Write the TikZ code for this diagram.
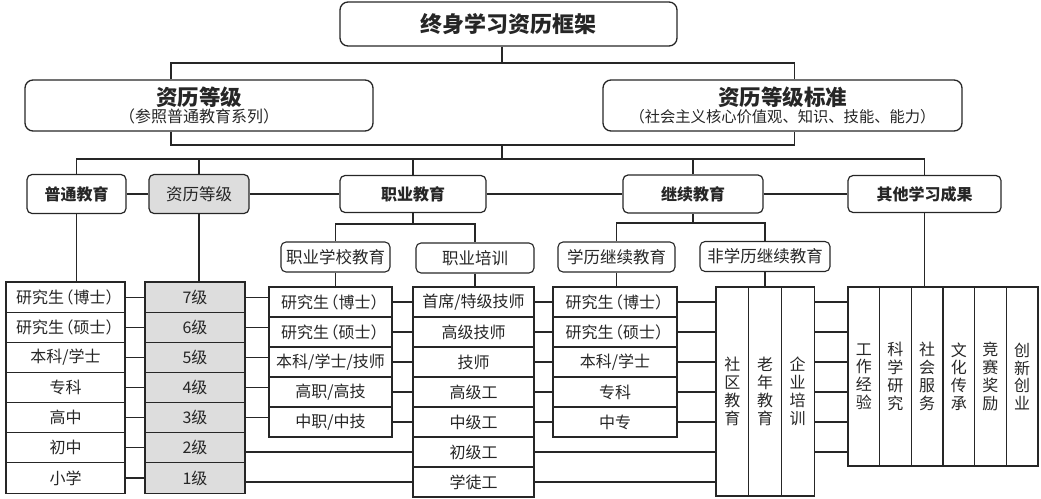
\documentclass[tikz,border=0pt]{standalone}
\usepackage{fontspec}
\setmainfont{Noto Sans CJK SC}
\usetikzlibrary{positioning}
\definecolor{Ink}{HTML}{262626}
\definecolor{CellGray}{HTML}{DDDDDD}
\newcommand{\brk}[1]{\kern-.42em（#1）\kern-.42em}
\tikzset{
  titlebox/.style={draw=Ink, rounded corners=8pt, line width=1.3pt, align=center, inner sep=0pt},
  catbox/.style={draw=Ink, rounded corners=5pt, line width=1.2pt, align=center, inner sep=0pt, font=\fontsize{16}{18}\selectfont\bfseries},
  graybox/.style={catbox, fill=CellGray, font=\fontsize{16.5}{18}\selectfont},
  subbox/.style={draw=Ink, rounded corners=5pt, line width=1.1pt, minimum height=30pt, inner sep=0pt, font=\fontsize{16.5}{18}\selectfont},
  cell/.style={draw=Ink, line width=1.1pt, outer sep=0pt, inner sep=0pt, minimum height=30pt, font=\fontsize{16}{18}\selectfont},
  graycell/.style={cell, fill=CellGray},
  vcell/.style={draw=Ink, line width=1.1pt, outer sep=0pt, inner sep=0pt, align=center, font=\fontsize{16}{17.8}\selectfont},
  link/.style={draw=Ink, line width=1.1pt}
}
\begin{document}
\begin{tikzpicture}[x=1pt, y=-1pt, text=Ink]
  \useasboundingbox (0,0) rectangle (1041,498);

  % top levels
  \node[titlebox, minimum width=337pt, minimum height=44pt, font=\fontsize{22}{26}\selectfont\bfseries] (top) at (508.5,24) {终身学习资历框架};
  \node[titlebox, minimum width=348pt, minimum height=51pt] (qual) at (199,105.5)
    {{\fontsize{21.5}{23}\selectfont\bfseries 资历等级}\\[0pt]{\fontsize{16}{17}\selectfont （参照普通教育系列）}};
  \node[titlebox, minimum width=359pt, minimum height=51pt] (std) at (782.5,105.5)
    {{\fontsize{21.5}{23}\selectfont\bfseries 资历等级标准}\\[0pt]{\fontsize{15.3}{17}\selectfont （社会主义核心价值观、知识、技能、能力）}};

  % categories
  \node[catbox, minimum width=99pt, minimum height=39pt] (gen) at (76.5,194) {普通教育};
  \node[graybox, minimum width=100pt, minimum height=39pt] (lvl) at (199,194) {资历等级};
  \node[catbox, minimum width=146pt, minimum height=37pt] (voc) at (413,194) {职业教育};
  \node[catbox, minimum width=140pt, minimum height=38pt] (cont) at (693,194) {继续教育};
  \node[catbox, minimum width=153pt, minimum height=37pt] (oth) at (924.5,194) {其他学习成果};

  \node[subbox, minimum width=109pt] (vsch) at (335.5,257) {职业学校教育};
  \node[subbox, minimum width=118pt] (vtrn) at (475,258) {职业培训};
  \node[subbox, minimum width=117pt] (acad) at (616.5,257) {学历继续教育};
  \node[subbox, minimum width=130pt] (nacad) at (765,256.5) {非学历继续教育};

  % general education column
  \node[cell, minimum width=119pt, minimum height=30.15pt] (gen1) at (65.5,297.1) {研究生\brk{博士}};
  \node[cell, minimum width=119pt, minimum height=30.15pt, below=0pt of gen1] (gen2) {研究生\brk{硕士}};
  \node[cell, minimum width=119pt, minimum height=30.15pt, below=0pt of gen2] (gen3) {本科/学士};
  \node[cell, minimum width=119pt, minimum height=30.15pt, below=0pt of gen3] (gen4) {专科};
  \node[cell, minimum width=119pt, minimum height=30.15pt, below=0pt of gen4] (gen5) {高中};
  \node[cell, minimum width=119pt, minimum height=30.15pt, below=0pt of gen5] (gen6) {初中};
  \node[cell, minimum width=119pt, minimum height=30.15pt, below=0pt of gen6] (gen7) {小学};

  % level column
  \node[graycell, minimum width=100pt, minimum height=30.15pt] (lvl1) at (195,297.1) {7级};
  \node[graycell, minimum width=100pt, minimum height=30.15pt, below=0pt of lvl1] (lvl2) {6级};
  \node[graycell, minimum width=100pt, minimum height=30.15pt, below=0pt of lvl2] (lvl3) {5级};
  \node[graycell, minimum width=100pt, minimum height=30.15pt, below=0pt of lvl3] (lvl4) {4级};
  \node[graycell, minimum width=100pt, minimum height=30.15pt, below=0pt of lvl4] (lvl5) {3级};
  \node[graycell, minimum width=100pt, minimum height=30.15pt, below=0pt of lvl5] (lvl6) {2级};
  \node[graycell, minimum width=100pt, minimum height=30.15pt, below=0pt of lvl6] (lvl7) {1级};

  % vocational school column
  \node[cell, minimum width=123pt] (vsch1) at (330.5,302) {研究生\brk{博士}};
  \node[cell, minimum width=123pt, below=0pt of vsch1] (vsch2) {研究生\brk{硕士}};
  \node[cell, minimum width=123pt, below=0pt of vsch2] (vsch3) {本科/学士/技师};
  \node[cell, minimum width=123pt, below=0pt of vsch3] (vsch4) {高职/高技};
  \node[cell, minimum width=123pt, below=0pt of vsch4] (vsch5) {中职/中技};

  % vocational training column
  \node[cell, minimum width=121pt] (vtrn1) at (473.5,302) {首席/特级技师};
  \node[cell, minimum width=121pt, below=0pt of vtrn1] (vtrn2) {高级技师};
  \node[cell, minimum width=121pt, below=0pt of vtrn2] (vtrn3) {技师};
  \node[cell, minimum width=121pt, below=0pt of vtrn3] (vtrn4) {高级工};
  \node[cell, minimum width=121pt, below=0pt of vtrn4] (vtrn5) {中级工};
  \node[cell, minimum width=121pt, below=0pt of vtrn5] (vtrn6) {初级工};
  \node[cell, minimum width=121pt, below=0pt of vtrn6] (vtrn7) {学徒工};

  % academic continuing column
  \node[cell, minimum width=124pt] (acad1) at (615,302) {研究生\brk{博士}};
  \node[cell, minimum width=124pt, below=0pt of acad1] (acad2) {研究生\brk{硕士}};
  \node[cell, minimum width=124pt, below=0pt of acad2] (acad3) {本科/学士};
  \node[cell, minimum width=124pt, below=0pt of acad3] (acad4) {专科};
  \node[cell, minimum width=124pt, below=0pt of acad4] (acad5) {中专};

  % non-academic block
  \node[vcell, minimum width=32.7pt, minimum height=209pt] (comm) at (732.3,391.5) {社\\区\\教\\育};
  \node[vcell, minimum width=32.7pt, minimum height=209pt, right=0pt of comm] (elder) {老\\年\\教\\育};
  \node[vcell, minimum width=32.7pt, minimum height=209pt, right=0pt of elder] (corp) {企\\业\\培\\训};

  % other outcomes block
  \node[vcell, minimum width=31.67pt, minimum height=179pt] (work) at (863.8,376.5) {工\\作\\经\\验};
  \node[vcell, minimum width=31.67pt, minimum height=179pt, right=0pt of work] (sci) {科\\学\\研\\究};
  \node[vcell, minimum width=31.67pt, minimum height=179pt, right=0pt of sci] (serv) {社\\会\\服\\务};
  \node[vcell, minimum width=31.67pt, minimum height=179pt, right=0pt of serv] (cult) {文\\化\\传\\承};
  \node[vcell, minimum width=31.67pt, minimum height=179pt, right=0pt of cult] (comp) {竞\\赛\\奖\\励};
  \node[vcell, minimum width=31.67pt, minimum height=179pt, right=0pt of comp] (innov) {创\\新\\创\\业};

  \coordinate (j1) at (502,63);
  \coordinate (j2) at (502,145);
  \coordinate (j3) at (502,159);
  \coordinate (vj) at (413,224);
  \coordinate (cj) at (693,223);

  % tree lines
  \draw[link] (j1 |- top.south) -- (j1);
  \draw[link] ([xshift=-28pt]qual.north) |- (j1) -| ([xshift=12pt]std.north);
  \draw[link] ([xshift=-28pt]qual.south) |- (j2) -| ([xshift=12pt]std.south);
  \draw[link] (j2) -- (j3);
  \draw[link] (gen.north) |- (j3) -| (oth.north);
  \draw[link] (lvl.north) -- (lvl.north |- j3);
  \draw[link] (voc.north) -- (voc.north |- j3);
  \draw[link] (cont.north) -- (cont.north |- j3);
  \draw[link] (gen) -- (lvl);
  \draw[link] (lvl) -- (voc);
  \draw[link] (voc) -- (cont);
  \draw[link] (cont) -- (oth);
  \draw[link] (voc.south) -- (vj);
  \draw[link] (vsch.north) |- (vj) -| (vtrn.north);
  \draw[link] (cont.south) -- (cj);
  \draw[link] (acad.north) |- (cj) -| (nacad.north);

  % drops into columns
  \draw[link] (gen.south) -- (gen.south |- gen1.north);
  \draw[link] (lvl.south) -- (lvl.south |- lvl1.north);
  \draw[link] (vsch.south) -- (vsch.south |- vsch1.north);
  \draw[link] (vtrn.south) -- (vtrn.south |- vtrn1.north);
  \draw[link] (acad.south) -- (acad.south |- acad1.north);
  \draw[link] (nacad.south) -- (nacad.south |- elder.north);
  \draw[link] (oth.south) -- (oth.south |- work.north);

  % row links
  \draw[link] (gen1) -- (lvl1);
  \draw[link] (gen2) -- (lvl2);
  \draw[link] (gen3) -- (lvl3);
  \draw[link] (gen4) -- (lvl4);
  \draw[link] (gen5) -- (lvl5);
  \draw[link] (gen6) -- (lvl6);
  \draw[link] (gen7) -- (lvl7);
  \draw[link] (lvl1.east) -- (lvl1.east -| vsch1.west);
  \draw[link] (lvl2.east) -- (lvl2.east -| vsch2.west);
  \draw[link] (lvl3.east) -- (lvl3.east -| vsch3.west);
  \draw[link] (lvl4.east) -- (lvl4.east -| vsch4.west);
  \draw[link] (lvl5.east) -- (lvl5.east -| vsch5.west);
  \draw[link] (lvl6.east |- vtrn6.west) -- (vtrn6.west);
  \draw[link] (lvl7.east |- vtrn7.west) -- (vtrn7.west);
  \draw[link] (vsch1) -- (vtrn1);
  \draw[link] (vsch2) -- (vtrn2);
  \draw[link] (vsch3) -- (vtrn3);
  \draw[link] (vsch4) -- (vtrn4);
  \draw[link] (vsch5) -- (vtrn5);
  \draw[link] (vtrn1) -- (acad1);
  \draw[link] (vtrn2) -- (acad2);
  \draw[link] (vtrn3) -- (acad3);
  \draw[link] (vtrn4) -- (acad4);
  \draw[link] (vtrn5) -- (acad5);
  \draw[link] (vtrn6.east) -- (vtrn6.east -| comm.west);
  \draw[link] (vtrn7.east) -- (vtrn7.east -| comm.west);
  \draw[link] (acad1.east) -- (acad1.east -| comm.west);
  \draw[link] (acad2.east) -- (acad2.east -| comm.west);
  \draw[link] (acad3.east) -- (acad3.east -| comm.west);
  \draw[link] (acad4.east) -- (acad4.east -| comm.west);
  \draw[link] (acad5.east) -- (acad5.east -| comm.west);
  \draw[link] (corp.east |- vtrn1.east) -- (work.west |- vtrn1.east);
  \draw[link] (corp.east |- vtrn2.east) -- (work.west |- vtrn2.east);
  \draw[link] (corp.east |- vtrn3.east) -- (work.west |- vtrn3.east);
  \draw[link] (corp.east |- vtrn4.east) -- (work.west |- vtrn4.east);
  \draw[link] (corp.east |- vtrn5.east) -- (work.west |- vtrn5.east);
  \draw[link] (corp.east |- vtrn6.east) -- (work.west |- vtrn6.east);
\end{tikzpicture}
\end{document}
